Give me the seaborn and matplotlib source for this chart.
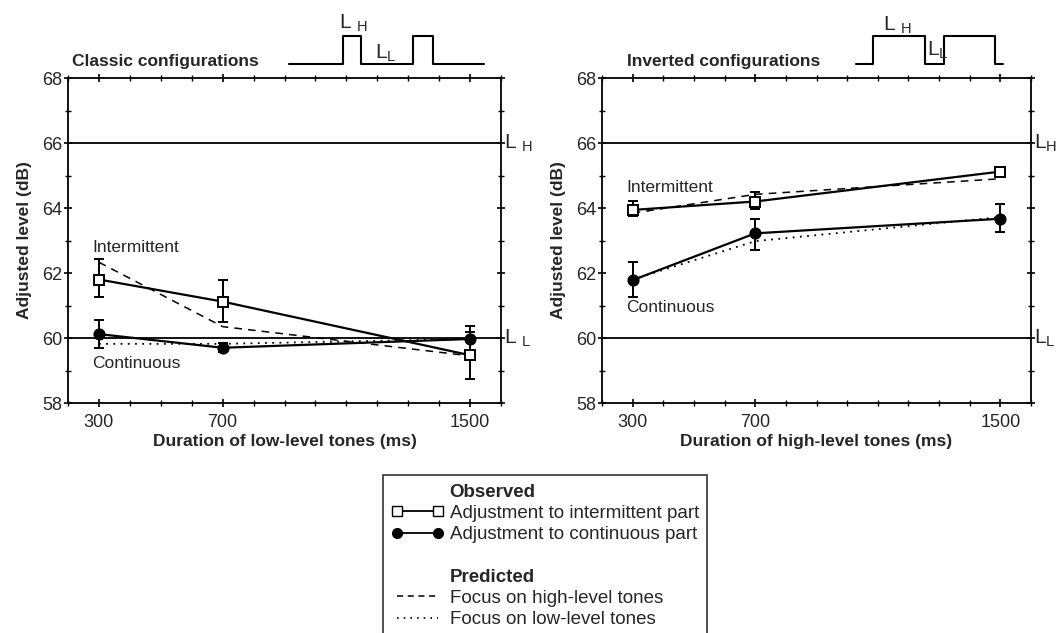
import numpy as np
import pandas as pd
import matplotlib
matplotlib.use('Agg')
import matplotlib.pyplot as plt
import matplotlib.transforms as mtransforms
from matplotlib.lines import Line2D
from matplotlib.ticker import MultipleLocator, FixedLocator
import seaborn as sns

# durations (ms)
durations = [300, 700, 1500]

# Classic configurations (left panel)
classic_int = [61.8, 61.12, 59.47]
classic_int_lo = [61.27, 60.5, 58.75]
classic_int_hi = [62.42, 61.78, 60.2]
classic_cont = [60.12, 59.7, 59.97]
classic_cont_lo = [59.68, 59.58, 59.6]
classic_cont_hi = [60.55, 59.85, 60.37]
classic_pred_high = [62.33, 60.35, 59.45]
classic_pred_low = [59.82, 59.82, 59.97]

# Inverted configurations (right panel)
inv_int = [63.94, 64.2, 65.12]
inv_int_lo = [63.75, 63.96, 65.05]
inv_int_hi = [64.22, 64.5, 65.2]
inv_cont = [61.78, 63.22, 63.67]
inv_cont_lo = [61.27, 62.72, 63.27]
inv_cont_hi = [62.33, 63.66, 64.11]
inv_pred_high = [63.84, 64.42, 64.9]
inv_pred_low = [61.8, 62.98, 63.72]

level_high = 66
level_low = 60

# stimulus schematics (time in arbitrary units, level 0 = L_L, 1 = L_H)
classic_sch_t = [0, 54, 54, 72, 72, 124, 124, 144, 144, 195]
classic_sch_lv = [0, 0, 1, 1, 0, 0, 1, 1, 0, 0]
inverted_sch_t = [0, 17, 17, 69, 69, 88, 88, 139, 139, 147]
inverted_sch_lv = [0, 0, 1, 1, 0, 0, 1, 1, 0, 0]

sns.set_style('ticks')
plt.rcParams['font.family'] = ['Liberation Sans', 'DejaVu Sans']
plt.rcParams['mathtext.fontset'] = 'custom'
plt.rcParams['mathtext.rm'] = 'Liberation Sans'

fig = plt.figure(figsize=(10.57, 6.33), dpi=100)
W, H = 1057, 633
ax_l = fig.add_axes([68 / W, (H - 403) / H, 433 / W, 325 / H])
ax_r = fig.add_axes([602 / W, (H - 403) / H, 429 / W, 325 / H])


def draw_panel(ax, obs_int, int_lo, int_hi, obs_cont, cont_lo, cont_hi,
               pred_high, pred_low, xlabel, title, title_x, txt_int_y, txt_cont_y,
               lh_text, ll_text):
    df = pd.DataFrame({'dur': durations, 'int': obs_int, 'cont': obs_cont,
                       'ph': pred_high, 'pl': pred_low})
    sns.lineplot(data=df, x='dur', y='ph', ax=ax, color='black', lw=1.1,
                 linestyle=(0, (5, 4)))
    sns.lineplot(data=df, x='dur', y='pl', ax=ax, color='black', lw=1.3,
                 linestyle=(0, (1, 3)))
    ax.axhline(level_high, color='black', lw=1.3)
    ax.axhline(level_low, color='black', lw=1.3)
    yerr_i = [np.array(obs_int) - np.array(int_lo), np.array(int_hi) - np.array(obs_int)]
    yerr_c = [np.array(obs_cont) - np.array(cont_lo), np.array(cont_hi) - np.array(obs_cont)]
    ax.errorbar(durations, obs_cont, yerr=yerr_c, fmt='none', ecolor='black',
                elinewidth=1.4, capsize=3.8, capthick=1.4, zorder=3)
    ax.errorbar(durations, obs_int, yerr=yerr_i, fmt='none', ecolor='black',
                elinewidth=1.4, capsize=3.8, capthick=1.4, zorder=3)
    sns.lineplot(data=df, x='dur', y='cont', ax=ax, color='black', lw=1.6,
                 marker='o', markersize=8, markerfacecolor='black',
                 markeredgecolor='black', zorder=4)
    sns.lineplot(data=df, x='dur', y='int', ax=ax, color='black', lw=1.6,
                 marker='s', markersize=7.5, markerfacecolor='white',
                 markeredgecolor='black', markeredgewidth=1.4, zorder=5)

    ax.set_xlim(200, 1600)
    ax.set_ylim(58, 68)
    ax.xaxis.set_major_locator(FixedLocator(durations))
    ax.xaxis.set_minor_locator(MultipleLocator(100))
    ax.yaxis.set_major_locator(MultipleLocator(2))
    ax.yaxis.set_minor_locator(MultipleLocator(1))
    ax.tick_params(which='both', direction='inout', top=True, right=True,
                   labeltop=False, labelright=False, color='black')
    ax.tick_params(which='major', length=6, width=1.2, labelsize=13)
    ax.tick_params(axis='x', which='major', pad=5)
    ax.tick_params(axis='y', which='major', pad=1)
    ax.tick_params(which='minor', length=4, width=1.0)
    for s in ax.spines.values():
        s.set_linewidth(1.3)
        s.set_color('black')
    ax.set_xlabel(xlabel, fontsize=12.5, fontweight='bold', labelpad=2)
    ax.set_ylabel('Adjusted level (dB)', fontsize=12.5, fontweight='bold', labelpad=7)
    ax.text(title_x, 1.037, title, transform=ax.transAxes,
            fontsize=12.5, fontweight='bold', ha='left', va='baseline')

    ax.text(278, txt_int_y, 'Intermittent', fontsize=12.5, ha='left', va='center')
    ax.text(278, txt_cont_y, 'Continuous', fontsize=12.5, ha='left', va='center')

    trans = mtransforms.blended_transform_factory(ax.transAxes, ax.transData)
    ax.text(1.006, level_high, lh_text, transform=trans, fontsize=15,
            ha='left', va='center', clip_on=False)
    ax.text(1.006, level_low, ll_text, transform=trans, fontsize=15,
            ha='left', va='center', clip_on=False)


draw_panel(ax_l, classic_int, classic_int_lo, classic_int_hi, classic_cont,
           classic_cont_lo, classic_cont_hi, classic_pred_high, classic_pred_low,
           'Duration of low-level tones (ms)', 'Classic configurations', 0.01, 62.79, 59.23,
           r'L $_{\rm H}$', r'L $_{\rm L}$')
draw_panel(ax_r, inv_int, inv_int_lo, inv_int_hi, inv_cont, inv_cont_lo, inv_cont_hi,
           inv_pred_high, inv_pred_low,
           'Duration of high-level tones (ms)', 'Inverted configurations', 0.058, 64.64, 60.93,
           r'L$_{\rm H}$', r'L$_{\rm L}$')

# stimulus schematics
sch_l = fig.add_axes([289 / W, (H - 64) / H, 195 / W, 28 / H])
sch_l.plot(classic_sch_t, classic_sch_lv, color='black', lw=1.5, clip_on=False)
sch_l.set_xlim(0, 195)
sch_l.set_ylim(0, 1)
sch_l.text(50, 1.45, r'L $_{\rm H}$', fontsize=15, ha='left', va='center')
sch_l.text(86, 0.4, r'L$_{\rm L}$', fontsize=15, ha='left', va='center')
sch_l.axis('off')

sch_r = fig.add_axes([856 / W, (H - 64) / H, 147 / W, 28 / H])
sch_r.plot(inverted_sch_t, inverted_sch_lv, color='black', lw=1.5, clip_on=False)
sch_r.set_xlim(0, 147)
sch_r.set_ylim(0, 1)
sch_r.text(27, 1.4, r'L $_{\rm H}$', fontsize=15, ha='left', va='center')
sch_r.text(71, 0.5, r'L$_{\rm L}$', fontsize=15, ha='left', va='center')
sch_r.axis('off')

# legend
blank = Line2D([], [], linestyle='none')
h_int = Line2D([], [], color='black', lw=1.3, marker='s', markersize=6.5,
               markerfacecolor='white', markeredgecolor='black')
h_cont = Line2D([], [], color='black', lw=1.3, marker='o', markersize=7,
                markerfacecolor='black')
h_high = Line2D([], [], color='black', lw=1.1, linestyle=(0, (4, 3)))
h_low = Line2D([], [], color='black', lw=1.2, linestyle=(0, (1, 3)))
handles = [blank, h_int, h_cont, blank, blank, h_high, h_low]
labels = ['Observed', 'Adjustment to intermittent part', 'Adjustment to continuous part',
          '', 'Predicted', 'Focus on high-level tones', 'Focus on low-level tones']
leg = fig.legend(handles, labels, loc='upper left', bbox_to_anchor=(383 / W, 1 - 475 / H),
                 fontsize=13.5, frameon=True, fancybox=False, edgecolor='black',
                 handlelength=2.8, handletextpad=0.3, labelspacing=0.22,
                 borderpad=0.45, numpoints=2, borderaxespad=0)
leg.get_frame().set_linewidth(1.2)
for t in leg.get_texts():
    if t.get_text() in ('Observed', 'Predicted'):
        t.set_fontweight('bold')

fig.savefig('out.png', dpi=100)
